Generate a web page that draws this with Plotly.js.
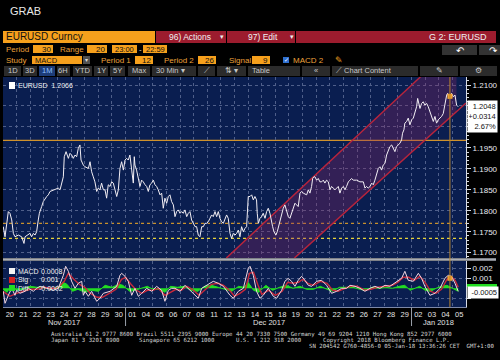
<!DOCTYPE html>
<html><head><meta charset="utf-8">
<script src="https://cdn.plot.ly/plotly-3.0.1.min.js"></script>
<style>html,body{margin:0;padding:0;background:#000;}#chart{width:500px;height:360px;}</style>
</head><body><div id="chart"></div>
<script>
// ---------- DATA ----------
// trading-day index (0 = Mon 20 Nov 2017 session) of EURUSD 30-min price samples
const priceT = [
0.02,0.15,0.39,0.51,0.64,0.76,0.88,1.13,1.37,1.54,
1.62,1.86,1.98,2.10,2.23,2.35,2.47,2.59,2.67,2.84,
2.96,3.21,3.33,3.45,3.70,4.06,4.19,4.31,4.43,4.50,
4.63,4.80,4.92,5.04,5.16,5.29,5.41,5.53,5.65,5.73,
5.90,6.02,6.27,6.39,6.51,6.63,6.75,6.88,7.00,7.12,
7.24,7.37,7.49,7.61,7.73,7.86,7.98,8.10,8.22,8.35,
8.47,8.59,8.71,8.84,8.96,9.08,9.20,9.32,9.45,9.57,
9.64,9.69,9.81,9.94,10.06,10.18,10.30,10.43,10.55,10.67,
10.79,10.92,11.04,11.16,11.28,11.40,11.53,11.65,11.77,11.89,
12.02,12.14,12.26,12.38,12.51,12.63,12.75,12.87,13.00,13.12,
13.24,13.36,13.49,13.61,13.73,13.85,13.97,14.10,14.22,14.34,
14.46,14.59,14.71,14.83,14.95,15.08,15.20,15.32,15.44,15.57,
15.69,15.81,15.93,16.05,16.18,16.30,16.42,16.54,16.67,16.79,
16.91,17.03,17.16,17.28,17.40,17.52,17.65,17.77,17.89,18.01,
18.14,18.26,18.38,18.50,18.62,18.67,18.75,18.87,18.99,19.11,
19.24,19.36,19.48,19.60,19.68,19.80,19.90,20.04,20.14,20.29,
20.46,20.58,20.70,20.83,20.95,21.07,21.19,21.32,21.44,21.56,
21.68,21.81,21.93,22.05,22.30,22.42,22.54,22.66,22.74,22.83,
22.91,23.03,23.15,23.27,23.40,23.52,23.64,23.76,23.89,24.01,
24.13,24.25,24.38,24.50,24.62,24.74,24.87,24.99,25.11,25.23,
25.36,25.48,25.60,25.72,25.97,26.21,26.46,26.58,26.70,26.82,
26.95,27.07,27.19,27.31,27.43,27.56,27.68,27.80,27.92,28.05,
28.17,28.29,28.41,28.54,28.66,28.78,28.90,29.03,29.15,29.27,
29.34,29.44,29.51,29.64,29.76,29.88,30.01,30.13,30.25,30.37,
30.45,30.54,30.62,30.74,30.86,30.98,31.11,31.23,31.35,31.47,
31.60,31.72,31.84,31.96,32.09,32.21,32.33,32.45,32.58,32.65,
32.75,32.82,32.94,33.07,33.19,33.31,33.43];
const priceV = [
1.1762,1.1738,1.1798,1.1794,1.1778,1.1746,1.1738,1.1742,1.1738,1.1722,
1.1738,1.1742,1.1746,1.1738,1.1746,1.1742,1.1750,1.1778,1.1794,1.1810,
1.1822,1.1834,1.1838,1.1846,1.1850,1.1854,1.1850,1.1866,1.1881,1.1929,
1.1941,1.1925,1.1937,1.1933,1.1925,1.1933,1.1929,1.1949,1.1957,1.1921,
1.1909,1.1905,1.1901,1.1917,1.1893,1.1881,1.1869,1.1846,1.1854,1.1850,
1.1866,1.1850,1.1850,1.1830,1.1862,1.1858,1.1869,1.1866,1.1850,1.1834,
1.1850,1.1901,1.1917,1.1897,1.1921,1.1925,1.1921,1.1933,1.1897,1.1866,
1.1929,1.1909,1.1897,1.1873,1.1858,1.1873,1.1869,1.1862,1.1858,1.1846,
1.1862,1.1866,1.1873,1.1862,1.1858,1.1850,1.1838,1.1842,1.1806,1.1830,
1.1818,1.1834,1.1838,1.1822,1.1814,1.1786,1.1798,1.1802,1.1794,1.1798,
1.1794,1.1802,1.1786,1.1794,1.1798,1.1778,1.1770,1.1762,1.1762,1.1742,
1.1738,1.1762,1.1762,1.1770,1.1770,1.1774,1.1782,1.1790,1.1786,1.1798,
1.1786,1.1798,1.1782,1.1774,1.1770,1.1778,1.1790,1.1782,1.1746,1.1734,
1.1746,1.1742,1.1746,1.1754,1.1738,1.1762,1.1750,1.1758,1.1762,1.1834,
1.1834,1.1838,1.1826,1.1834,1.1826,1.1794,1.1770,1.1782,1.1786,1.1794,
1.1782,1.1798,1.1806,1.1794,1.1778,1.1762,1.1750,1.1742,1.1750,1.1770,
1.1794,1.1806,1.1814,1.1798,1.1786,1.1782,1.1794,1.1810,1.1818,1.1814,
1.1810,1.1842,1.1846,1.1842,1.1838,1.1850,1.1842,1.1858,1.1877,1.1881,
1.1881,1.1873,1.1877,1.1869,1.1869,1.1873,1.1866,1.1873,1.1869,1.1850,
1.1858,1.1854,1.1850,1.1854,1.1858,1.1842,1.1854,1.1858,1.1850,1.1858,
1.1869,1.1873,1.1877,1.1873,1.1873,1.1869,1.1869,1.1854,1.1858,1.1854,
1.1858,1.1866,1.1862,1.1873,1.1885,1.1901,1.1905,1.1897,1.1909,1.1913,
1.1933,1.1941,1.1953,1.1957,1.1949,1.1941,1.1953,1.1957,1.1961,1.1969,
1.1985,1.1993,1.2009,1.2013,1.2021,1.2005,1.2017,1.2021,1.2036,1.2048,
1.2068,1.2052,1.2044,1.2056,1.2060,1.2052,1.2056,1.2048,1.2036,1.2028,
1.2013,1.2025,1.2009,1.2017,1.2021,1.2025,1.2032,1.2056,1.2076,1.2080,
1.2068,1.2076,1.2080,1.2072,1.2076,1.2052,1.2048];

const macdT = [
0.02,0.15,0.39,0.64,0.88,1.00,1.25,1.62,1.86,2.23,
2.47,2.72,3.21,3.70,4.06,4.43,4.60,4.80,5.04,5.29,
5.53,5.78,5.90,6.02,6.27,6.51,6.88,7.12,7.37,7.86,
8.35,8.59,8.71,8.96,9.20,9.45,9.69,9.94,10.18,10.55,
10.92,11.28,11.65,11.89,12.14,12.38,12.63,13.00,13.36,13.85,
14.34,14.59,14.95,15.44,15.81,16.18,16.67,16.91,17.28,17.65,
18.01,18.14,18.38,18.62,18.87,19.11,19.48,19.85,20.09,20.46,
20.70,20.95,21.19,21.44,21.68,21.93,22.17,22.42,22.66,23.03,
23.40,23.76,24.13,24.50,24.87,25.23,25.48,25.85,26.21,26.58,
26.95,27.31,27.68,28.05,28.41,28.90,29.27,29.51,29.76,30.13,
30.50,30.74,30.98,31.35,31.72,32.09,32.45,32.70,32.94,33.19,
33.43];
const macdV = [
-0.0003,-0.0015,-0.0007,0.0000,-0.0007,-0.0002,-0.0005,-0.0003,0.0000,-0.0003,
0.0000,0.0002,0.0000,-0.0002,0.0000,0.0013,0.0022,0.0017,0.0007,0.0000,
0.0005,0.0007,-0.0007,-0.0003,-0.0008,-0.0003,-0.0013,-0.0010,-0.0005,-0.0003,
0.0002,0.0013,0.0015,0.0012,0.0007,-0.0007,0.0000,-0.0008,-0.0005,0.0000,
-0.0003,0.0002,-0.0002,-0.0013,-0.0002,0.0000,0.0000,-0.0003,0.0003,-0.0003,
-0.0010,0.0000,0.0003,0.0007,0.0005,0.0002,-0.0007,-0.0010,-0.0003,0.0000,
0.0020,0.0022,0.0013,-0.0003,-0.0010,-0.0007,0.0000,-0.0008,-0.0010,-0.0002,
0.0007,0.0010,0.0007,0.0002,0.0008,0.0012,0.0008,0.0003,0.0002,0.0007,
0.0008,0.0003,-0.0005,-0.0003,0.0000,0.0000,0.0003,0.0002,0.0000,-0.0003,
0.0000,0.0002,0.0000,0.0003,0.0002,0.0007,0.0010,0.0017,0.0008,0.0007,
0.0015,0.0010,0.0002,-0.0007,-0.0005,0.0000,0.0010,0.0013,0.0012,0.0005,
-0.0003];

const sigT = [
0,0.5,1,1.5,2,2.5,3,3.5,4,4.5,
4.8,5.2,5.6,6,6.4,6.9,7.3,7.8,8.3,8.7,
9.0,9.4,9.8,10.2,10.6,11,11.4,11.9,12.3,12.7,
13.1,13.5,13.9,14.4,14.8,15.3,15.8,16.2,16.7,17.0,
17.4,17.8,18.1,18.4,18.7,19.0,19.5,20.0,20.5,20.9,
21.3,21.7,22.0,22.4,22.8,23.3,23.8,24.2,24.6,25.0,
25.5,26,26.6,27,27.5,28.1,28.6,29.0,29.4,29.8,
30.2,30.6,31.0,31.4,31.8,32.2,32.6,32.9,33.2,33.43];
const sigV = [
-0.0003,-0.0008,-0.0005,-0.0003,-0.0001,-0.0001,0.0001,0,0,0.0007,
0.0015,0.0009,0.0004,0.0001,-0.0005,-0.0009,-0.0009,-0.0005,-0.0001,0.0009,
0.0011,0.0004,-0.0002,-0.0005,-0.0002,-0.0002,0,-0.0007,-0.0004,-0.0001,
-0.0002,0.0002,-0.0001,-0.0007,-0.0002,0.0004,0.0005,0.0003,-0.0003,-0.0008,
-0.0005,-0.0001,0.0015,0.0016,0.0004,-0.0006,-0.0002,-0.0007,-0.0003,0.0006,
0.0005,0.0006,0.0009,0.0005,0.0003,0.0007,0.0005,-0.0002,-0.0003,-0.0001,
0.0002,0.0002,-0.0002,-0.0001,0.0001,0.0002,0.0003,0.0006,0.0011,0.0011,
0.0008,0.0012,0.0006,-0.0003,-0.0005,-0.0001,0.0009,0.0012,0.0008,0.0001];

const diffT = [
0,0.3,0.6,1,1.5,2,2.5,3,3.5,4,
4.4,4.7,5.1,5.5,6,6.5,7,7.5,8,8.5,
8.8,9.3,9.7,10.2,10.6,11,11.5,11.9,12.3,12.8,
13.3,13.8,14.3,14.8,15.3,15.8,16.3,16.8,17.3,17.7,
18.0,18.4,18.8,19.3,19.8,20.3,20.8,21.3,21.8,22.3,
22.8,23.3,23.8,24.2,24.7,25.2,25.7,26.2,26.6,27.1,
27.6,28.1,28.6,29.1,29.5,29.9,30.3,30.6,31.0,31.4,
31.8,32.2,32.6,33.0,33.43];
const diffV = [
-0.0001,-0.0004,0.0003,-0.0002,-0.0001,0.0002,0.0001,0.0001,-0.0001,0.0001,
0.0006,0.0004,-0.0003,-0.0001,-0.0004,-0.0002,-0.0003,0.0003,0.0001,0.0004,
0.0003,-0.0003,-0.0002,0,0.0002,-0.0001,-0.0001,-0.0004,0.0002,0.0001,
0.0002,-0.0002,-0.0003,0.0002,0.0003,0.0001,-0.0001,-0.0003,0.0002,0.0001,
0.0006,-0.0002,-0.0004,0.0003,-0.0002,0.0001,0.0003,0,0.0002,-0.0001,
-0.0001,0.0002,-0.0001,-0.0003,0.0001,0.0001,0.0001,-0.0001,-0.0002,0.0001,
0,0.0001,0,0.0002,0.0003,-0.0002,0,0.0002,-0.0002,-0.0003,
0,0.0002,0.0003,0,-0.0003];

// trend channel drawn on the chart (trading-day index, price)
const channelUpperT = [16.4, 31.0];
const channelUpperP = [1.1687, 1.2130];
const channelLowerT = [21.4, 34.0];
const channelLowerP = [1.1687, 1.2057];
const channelEndT = 33.3;

// horizontal study levels
const levelSolid = 1.1968;
const levelDotOrange = 1.1770;
const levelDotYellow = 1.1734;

// crosshair
const crossT = 32.82, crossPrice = 1.2073, crossMacd = 0.0010;

const dayLabels = ['20','21','22','23','24','27','28','29','30','01','04','05','06','07','08','11','12','13','14','15','18','19','20','21','22','25','26','27','28','29','02','03','04','05'];
const monthLabels = ['Nov 2017','Dec 2017','Jan 2018'];
const monthStarts = [0, 9, 30];

const priceTicks = [1.17, 1.175, 1.18, 1.185, 1.19, 1.195, 1.20, 1.205, 1.21];
const macdTicks = [-0.001, 0.001, 0.002];

const lastPrice = '1.2048', lastChange = '+0.0314', lastPct = '2.67%';
const legendPrice = '1.2066';
const legendMacd = '0.0008', legendSig = '0.001', legendDiff = '-0.0002';
const lastMacd = '-0.0005';

// ---------- LAYOUT HELPERS ----------
const FONT = '"Liberation Sans", Arial, sans-serif';
const MONO = '"DejaVu Sans Mono", monospace';
const L = 3, T = 77, PW = 463, PH = 230, PB = 307;
const fx = v => (v - L) / PW;
const fy = v => (PB - v) / PH;
const shapes = [], annotations = [];
function rect(x0, y0, x1, y1, fill) {
  shapes.push({type:'rect', xref:'paper', yref:'paper', x0:fx(x0), x1:fx(x1), y0:fy(y1), y1:fy(y0),
    fillcolor:fill, line:{width:0}, layer:'above'});
}
function txt(x, y, s, o = {}) {
  annotations.push({xref:'paper', yref:'paper', x:fx(x), y:fy(y), text:s, showarrow:false,
    xanchor:o.anchor || 'left', yanchor:'middle', borderpad:0,
    font:{family:o.family || FONT, size:o.size || 9, color:o.color || '#e6e6e6'}});
}

const ORANGE = '#f6a01c', RED = '#9c1c2e', LBL = '#eda23a', DARK = '#111111', BTN = '#2b2b2b';

// title / header
txt(9, 11, 'GRAB', {size:11, color:'#e8e8e8'});
rect(3, 31, 155, 43, ORANGE); txt(5, 37, 'EURUSD Curncy', {size:10, color:DARK});
rect(156, 31, 226, 43, RED); txt(168, 37, '96) Actions', {size:8.5, color:'#f0f0f0'}); txt(219, 37, '▾', {size:7, color:'#f0f0f0'});
rect(227, 31, 295, 43, RED); txt(247, 37, '97) Edit', {size:8.5, color:'#f0f0f0'}); txt(289, 37, '▾', {size:7, color:'#f0f0f0'});
rect(296, 31, 496, 43, RED); txt(488, 37, 'G 2: EURUSD', {size:9, color:'#f0f0f0', anchor:'right'});
// row 2
txt(5, 49, 'Period', {size:8, color:LBL});
rect(33, 45, 53, 53, ORANGE); txt(52, 49, '30', {size:8, color:DARK, anchor:'right'});
txt(59, 49, 'Range', {size:8, color:LBL});
rect(87, 45, 107, 53, ORANGE); txt(106, 49, '20', {size:8, color:DARK, anchor:'right'});
rect(112, 45, 137, 53, ORANGE); txt(124.5, 49, '23:00', {size:7.5, color:DARK, anchor:'center'});
txt(140, 49, '-', {size:8, color:'#dddddd', anchor:'center'});
rect(143, 45, 167, 53, ORANGE); txt(155, 49, '22:59', {size:7.5, color:DARK, anchor:'center'});
rect(442, 45, 477, 55, '#333333'); txt(460, 50, '↶', {size:10, color:'#ffffff', anchor:'center'});
rect(479, 45, 500, 55, '#333333'); txt(494, 50, '↷', {size:10, color:'#ffffff', anchor:'center'});
// row 3
txt(5, 60, 'Study', {size:8, color:LBL});
rect(32, 56, 82, 64, ORANGE); txt(34, 60, 'MACD', {size:7.5, color:DARK});
rect(83, 56, 90, 64, '#505050'); txt(86.5, 60, '▾', {size:6, color:'#dddddd', anchor:'center'});
txt(100, 60, 'Period 1', {size:8, color:LBL});
rect(135, 56, 153, 64, ORANGE); txt(152, 60, '12', {size:8, color:DARK, anchor:'right'});
txt(163, 60, 'Period 2', {size:8, color:LBL});
rect(198, 56, 216, 64, ORANGE); txt(215, 60, '26', {size:8, color:DARK, anchor:'right'});
txt(228, 60, 'Signal', {size:8, color:LBL});
rect(252, 56, 270, 64, ORANGE); txt(269, 60, '9', {size:8, color:DARK, anchor:'right'});
rect(283, 57, 289, 63, '#2e6fd0'); txt(286, 60, '✓', {size:6, color:'#ffffff', anchor:'center'});
txt(292, 60, 'MACD 2', {size:8, color:LBL});
txt(339, 60, '✎', {size:9, color:'#f0a020', anchor:'center'});
// row 4 toolbar
const tb = [[4,21,'1D'],[23,37,'3D'],[39,55,'1M'],[57,70,'6H'],[73,92,'YTD'],[94,108,'1Y'],[110,125,'5Y'],[128,150,'Max'],
  [152,196,'30 Min ▾'],[198,215,'⟋'],[217,246,'⇅ ▾'],[248,300,'Table'],[302,330,'«'],[332,418,'⟋ Chart Content'],[420,458,'✎'],[460,497,'⚙']];
tb.forEach(b => {
  const sel = b[2] === '1M';
  rect(b[0], 66, b[1], 76, sel ? '#1d3c78' : BTN);
  const left = ['Table','⟋ Chart Content','30 Min ▾'].includes(b[2]);
  txt(left ? b[0] + 3 : (b[0] + b[1]) / 2, 71, b[2], {size:7.5, color: sel ? '#8fc0ff' : '#c8c8c8', anchor: left ? 'left' : 'center'});
});

// main legend
rect(9, 82, 15, 89, '#ffffff'); txt(17, 85.5, 'EURUSD&nbsp;&nbsp;' + legendPrice, {size:7, color:'#f0f0f0'});
// MACD legend
rect(9, 268, 15, 274, '#f4f4f4'); txt(17, 271, 'MACD', {size:7, color:'#f0f0f0'}); txt(40, 271, legendMacd, {size:7, color:'#f0f0f0'});
rect(9, 277, 15, 283, '#d42020'); txt(17, 279.5, 'Sig', {size:7, color:'#f0f0f0'}); txt(40, 279.5, legendSig, {size:7, color:'#f0f0f0'});
rect(9, 285, 15, 291, '#22dd22'); txt(17, 288, 'Diff', {size:7, color:'#f0f0f0'}); txt(38, 288, legendDiff, {size:7, color:'#f0f0f0'});

// separator between panels
shapes.push({type:'line', xref:'paper', yref:'paper', x0:fx(3), x1:fx(496), y0:fy(259.5), y1:fy(259.5), line:{color:'#a8acb4', width:2.5}, layer:'above'});
// last value boxes
annotations.push({xref:'paper', yref:'paper', x:fx(467), y:fy(100), xanchor:'left', yanchor:'top', showarrow:false,
  text: lastPrice + '<br>' + lastChange + '<br>' + lastPct, align:'right', bgcolor:'#ffffff', borderpad:1, width:27,
  font:{family:FONT, size:7.5, color:'#111111'}});
rect(467, 284, 497, 287, '#22dd22');
annotations.push({xref:'paper', yref:'paper', x:fx(467), y:fy(292.5), xanchor:'left', yanchor:'middle', showarrow:false,
  text:lastMacd, bgcolor:'#ffffff', borderpad:1, width:28, align:'right', font:{family:FONT, size:7.5, color:'#111111'}});

// month labels & separators
monthLabels.forEach((m, i) => {
  const s = monthStarts[i], e = i + 1 < monthStarts.length ? monthStarts[i + 1] : dayLabels.length;
  annotations.push({xref:'x2', yref:'paper', x:(s + e) / 2, y:fy(322), text:m, showarrow:false, xanchor:'center', yanchor:'middle',
    font:{family:FONT, size:7.5, color:'#e0e0e0'}});
  if (s > 0) shapes.push({type:'line', xref:'x2', yref:'paper', x0:s, x1:s, y0:fy(307), y1:fy(326), line:{color:'#9aa0aa', width:1}, layer:'above'});
});

// footer
const fcol = '#d6d6d6', fs = 5.7;
txt(50, 334, 'Australia 61 2 9777 8600 Brazil 5511 2395 9000 Europe 44 20 7330 7500 Germany 49 69 9204 1210 Hong Kong 852 2977 6000', {family:MONO, size:fs, color:fcol});
txt(50, 340, 'Japan 81 3 3201 8900', {family:MONO, size:fs, color:fcol});
txt(138, 340, 'Singapore 65 6212 1000', {family:MONO, size:fs, color:fcol});
txt(235, 340, 'U.S. 1 212 318 2000', {family:MONO, size:fs, color:fcol});
txt(322, 340, 'Copyright 2018 Bloomberg Finance L.P.', {family:MONO, size:fs, color:fcol});
txt(495, 346, 'SN 204542 G760-4856-0 05-Jan-18 13:36:26 CET  GMT+1:00', {family:MONO, size:fs, color:fcol, anchor:'right'});

// study levels and crosshair
[[levelSolid,'solid','#d0922c'],[levelDotOrange,'dot','#c8902c'],[levelDotYellow,'dot','#e6d23a']].forEach(l => {
  shapes.push({type:'line', xref:'paper', yref:'y', x0:0, x1:1, y0:l[0], y1:l[0], line:{color:l[2], width:1.2, dash:l[1]}, layer:'between'});
});
shapes.push({type:'line', xref:'x', yref:'paper', x0:crossT, x1:crossT, y0:0, y1:1, line:{color:'#b8842c', width:1}, layer:'above'});

// ---------- TRACES ----------
const channelPolyT = [channelUpperT[0], channelUpperT[1], channelEndT, channelEndT, channelLowerT[0]];
const slopeLow = (channelLowerP[1] - channelLowerP[0]) / (channelLowerT[1] - channelLowerT[0]);
const channelPolyP = [channelUpperP[0], channelUpperP[1], channelUpperP[1], channelLowerP[0] + slopeLow * (channelEndT - channelLowerT[0]), channelLowerP[0]];
const days = dayLabels.map((_, i) => i);
days.push(dayLabels.length);

const traces = [
  {x:channelPolyT, y:channelPolyP, xaxis:'x', yaxis:'y', mode:'lines', fill:'toself', fillcolor:'rgba(140,36,100,0.32)', line:{width:0}, hoverinfo:'skip'},
  {x:channelUpperT, y:channelUpperP, xaxis:'x', yaxis:'y', mode:'lines', line:{color:'#b8243c', width:1.4}},
  {x:channelLowerT, y:channelLowerP, xaxis:'x', yaxis:'y', mode:'lines', line:{color:'#b8243c', width:1.4}},
  {x:priceT, y:priceV, xaxis:'x', yaxis:'y', mode:'lines', line:{color:'#f2eef4', width:1}},
  {x:[crossT], y:[crossPrice], xaxis:'x', yaxis:'y', mode:'markers', marker:{symbol:'square', size:5, color:'#f0a030'}},
  {x:diffT, y:diffV, xaxis:'x2', yaxis:'y2', mode:'lines', fill:'tozeroy', fillcolor:'#22dd22', line:{color:'#22dd22', width:1}},
  {x:sigT, y:sigV, xaxis:'x2', yaxis:'y2', mode:'lines', line:{color:'#c8283a', width:1.4}},
  {x:macdT, y:macdV, xaxis:'x2', yaxis:'y2', mode:'lines', line:{color:'#f2d6e0', width:1}},
  {x:[crossT], y:[crossMacd], xaxis:'x2', yaxis:'y2', mode:'markers', marker:{symbol:'square', size:5, color:'#f0a030'}}
];

// tick labels hidden where the last-value boxes sit over the axis
const priceTickText = priceTicks.map(v => (v > 1.1975 && v < 1.2075) ? '' : v.toFixed(4));
const macdTickText = macdTicks.map(v => v < 0 ? '' : String(v));

const GRID = '#4f5f8a';
const layout = {
  width:500, height:360, showlegend:false,
  paper_bgcolor:'#000000', plot_bgcolor:'#0a1e50',
  margin:{l:L, r:500 - L - PW, t:T, b:360 - PB},
  font:{family:FONT},
  xaxis:{domain:[0,1], anchor:'y', range:[0, dayLabels.length], tickmode:'array', tickvals:days, showticklabels:false, ticks:'',
    showgrid:true, gridcolor:GRID, griddash:'dot', gridwidth:1, zeroline:false, fixedrange:true},
  yaxis:{domain:[fy(258), 1], range:[1.16873, 1.21191], side:'right', tickmode:'array', tickvals:priceTicks, ticktext:priceTickText,
    ticks:'outside', ticklen:4, tickcolor:'#d8dce4', showline:true, linecolor:'#d8dce4', linewidth:1,
    showgrid:true, gridcolor:GRID, griddash:'dot', zeroline:false, tickfont:{size:8, color:'#e8eaf0'},
    minor:{dtick:0.001, ticks:'outside', ticklen:2, tickcolor:'#d8dce4', showgrid:false}},
  xaxis2:{domain:[0,1], anchor:'y2', matches:'x', range:[0, dayLabels.length], tickmode:'array',
    tickvals:dayLabels.map((_, i) => i + 0.5), ticktext:dayLabels, ticks:'', showgrid:false,
    tickfont:{size:7.5, color:'#e4e4e4'}, showline:true, linecolor:'#7d88a8', zeroline:false,
    minor:{tickmode:'array', tickvals:days, showgrid:true, gridcolor:GRID, griddash:'dot', ticks:''}},
  yaxis2:{domain:[0, fy(261)], range:[-0.00187, 0.00273], side:'right', tickmode:'array',
    tickvals:macdTicks, ticktext:macdTickText, ticks:'outside', ticklen:4, tickcolor:'#d8dce4',
    showline:true, linecolor:'#d8dce4', showgrid:true, gridcolor:GRID, griddash:'dot', zeroline:false,
    tickfont:{size:8, color:'#e8eaf0'}},
  shapes:shapes, annotations:annotations
};
Plotly.newPlot('chart', traces, layout, {staticPlot:true, displayModeBar:false});
</script></body></html>
